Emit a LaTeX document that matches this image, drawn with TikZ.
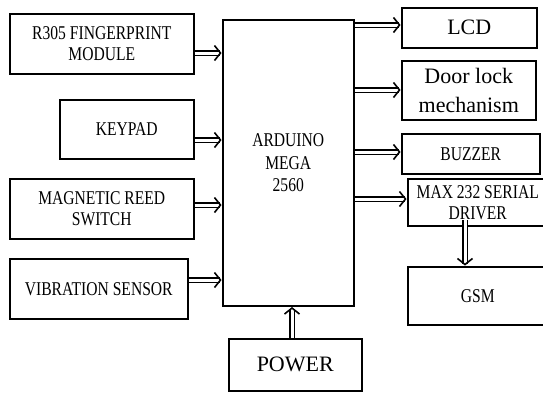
\documentclass[tikz,border=0pt]{standalone}
\usepackage{fontspec}
\setmainfont{Liberation Serif}
\usetikzlibrary{arrows.meta}
\newcommand\cond[1]{\scalebox{0.8}[1]{#1}}
\tikzset{
  blk/.style={draw, line width=1.5pt, inner sep=0pt, anchor=north west, align=center, font=\fontsize{19.5}{20.5}\selectfont},
  big/.style={font=\fontsize{22}{29}\selectfont},
  dbl/.style={double, line width=1.2pt, double distance=3pt, -{Straight Barb[length=6pt, width=15pt, line width=1.6pt]}, shorten >=0.5pt},
}
\begin{document}
\begin{tikzpicture}[x=1pt,y=-1pt]
\useasboundingbox (0,0) rectangle (543,392);
\node[blk, minimum width=184pt, minimum height=60pt] (fp) at (9,13) {\cond{R305 FINGERPRINT}\\\cond{MODULE}};
\node[blk, minimum width=134pt, minimum height=59pt] (kp) at (59,99) {\cond{KEYPAD}};
\node[blk, minimum width=184pt, minimum height=60pt] (mag) at (9,178) {\cond{MAGNETIC REED}\\\cond{SWITCH}};
\node[blk, minimum width=178pt, minimum height=60pt] (vib) at (9,258) {\cond{VIBRATION SENSOR}};
\node[blk, minimum width=131pt, minimum height=286pt, font=\fontsize{19.5}{22.5}\selectfont] (ard) at (222,19) {\cond{ARDUINO}\\\cond{MEGA}\\\cond{2560}};
\node[blk, big, minimum width=133pt, minimum height=52pt] (pow) at (228,338) {POWER};
\node[blk, big, minimum width=135pt, minimum height=40pt] (lcd) at (401,7) {LCD};
\node[blk, big, minimum width=134pt, minimum height=59pt] (door) at (401,60) {Door lock\\mechanism};
\node[blk, minimum width=138pt, minimum height=40pt] (buz) at (401,133) {\cond{BUZZER}};
\node[blk, minimum width=140pt, minimum height=47pt, font=\fontsize{19.5}{21}\selectfont] (max) at (407,178) {\cond{MAX 232 SERIAL}\\\cond{DRIVER}};
\node[blk, minimum width=140pt, minimum height=58pt] (gsm) at (407,266) {\cond{GSM}};
\coordinate (g1) at (465,220);
\draw[dbl] (fp.east |- 0,53) -- (ard.west |- 0,53);
\draw[dbl] (kp.east |- 0,140) -- (ard.west |- 0,140);
\draw[dbl] (mag.east |- 0,205) -- (ard.west |- 0,205);
\draw[dbl] (vib.east |- 0,280) -- (ard.west |- 0,280);
\draw[dbl] (ard.east |- 0,25) -- (lcd.west |- 0,25);
\draw[dbl] (ard.east |- 0,90) -- (door.west |- 0,90);
\draw[dbl] (ard.east |- 0,152) -- (buz.west |- 0,152);
\draw[dbl] (ard.east |- 0,199) -- (max.west |- 0,199);
\draw[dbl] (g1) -- (gsm.north -| g1);
\draw[dbl] (pow.north -| 292,0) -- (ard.south -| 292,0);
\end{tikzpicture}
\end{document}
